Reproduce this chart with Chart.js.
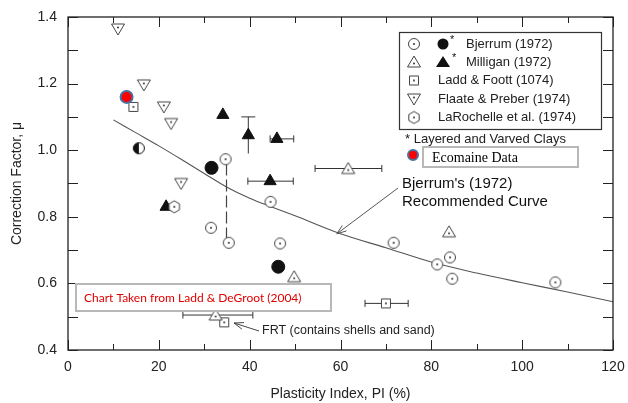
<!DOCTYPE html>
<html>
<head>
<meta charset="utf-8">
<script src="https://cdn.jsdelivr.net/npm/chart.js@4"></script>
<style>
  html, body { margin: 0; padding: 0; background: #fff; }
  #chart { display: block; }
</style>
</head>
<body>
<canvas id="chart" width="628" height="403"></canvas>
<script>
// ---- data (PI in %, mu) ----
const openCirclePI = [34.7, 35.4, 31.5, 46.7, 44.6, 71.7, 81.3, 84.1, 84.6, 107.3];
const openCircleMu = [0.973, 0.722, 0.767, 0.72, 0.845, 0.722, 0.657, 0.678, 0.614, 0.603];

const hexPI = [23.4];
const hexMu = [0.83];

const filledCirclePI = [31.6, 46.3];
const filledCircleMu = [0.947, 0.65];

const halfCirclePI = [15.6];
const halfCircleMu = [1.006];

const openTriPI = [61.7, 83.9, 49.8, 32.5];
const openTriMu = [0.945, 0.755, 0.62, 0.505];

const filledTriPI = [34.1, 39.7, 46.0, 44.5, 21.6];
const filledTriMu = [1.106, 1.045, 1.034, 0.907, 0.83];

const squarePI = [14.4, 70.0, 34.4];
const squareMu = [1.13, 0.54, 0.483];

const downTriPI = [11.0, 16.7, 21.1, 22.7, 24.9];
const downTriMu = [1.364, 1.196, 1.13, 1.08, 0.90];

const ecomainePI = [12.9];
const ecomaineMu = [1.16];

// Bjerrum (1972) recommended curve
const curvePI = [10, 15, 20, 25, 30, 35, 40, 45, 50, 60, 70, 80, 90, 100, 110, 120];
const curveMu = [1.091, 1.052, 1.013, 0.972, 0.93, 0.889, 0.856, 0.829, 0.803, 0.749, 0.707, 0.664, 0.631, 0.602, 0.574, 0.545];

// horizontal error bars
const xErrPI = [32.5, 70.0, 61.7, 46.0, 44.5];
const xErrMu = [0.505, 0.54, 0.945, 1.034, 0.907];
const xErrLo = [25.3, 65.4, 54.4, 44.5, 39.6];
const xErrHi = [40.7, 74.9, 69.1, 49.7, 49.6];

// vertical error bar
const yErrPI = [39.7];
const yErrLo = [0.99];
const yErrHi = [1.10];

// dashed link between two Bjerrum points
const linkPI = [34.9, 34.9];
const linkMu = [0.96, 0.722];

const yTicks = [0.4, 0.6, 0.8, 1.0, 1.2, 1.4];
const xTicks = [0, 20, 40, 60, 80, 100, 120];

const SANS = "'Liberation Sans', Arial, sans-serif";

function pts(xs, ys) {
  return xs.map((x, i) => ({ x: x, y: ys[i] }));
}

// small marker images
function marker(kind) {
  const c = document.createElement('canvas');
  c.width = 16; c.height = 16;
  const g = c.getContext('2d');
  g.translate(8, 8);
  g.lineWidth = 1;
  g.strokeStyle = '#444';
  g.fillStyle = '#fff';
  let dy = 0;
  g.beginPath();
  if (kind === 'circle') {
    g.arc(0, 0, 5.5, 0, Math.PI * 2);
  } else if (kind === 'hex') {
    for (let i = 0; i < 6; i++) {
      const a = Math.PI / 6 + i * Math.PI / 3;
      g.lineTo(6 * Math.cos(a), 6 * Math.sin(a));
    }
    g.closePath();
  } else if (kind === 'up') {
    g.moveTo(0, -6); g.lineTo(6.5, 5); g.lineTo(-6.5, 5); g.closePath();
    dy = 1.5;
  } else if (kind === 'down') {
    g.moveTo(0, 6); g.lineTo(6.5, -5); g.lineTo(-6.5, -5); g.closePath();
    dy = -1.5;
  } else if (kind === 'square') {
    g.rect(-4.5, -4.5, 9, 9);
  } else if (kind === 'half') {
    g.strokeStyle = '#111';
    g.arc(0, 0, 5.5, 0, Math.PI * 2);
    g.fill(); g.stroke();
    g.beginPath();
    g.fillStyle = '#111';
    g.arc(0, 0, 5.5, Math.PI / 2, Math.PI * 1.5);
    g.fill();
    return c;
  }
  g.fill();
  g.stroke();
  g.beginPath();
  g.fillStyle = '#333';
  g.arc(0, dy, 1, 0, Math.PI * 2);
  g.fill();
  return c;
}

const mCircle = marker('circle');
const mHex = marker('hex');
const mUp = marker('up');
const mDown = marker('down');
const mSquare = marker('square');
const mHalf = marker('half');

function arrow(ctx, x1, y1, x2, y2) {
  ctx.beginPath();
  ctx.moveTo(x1, y1);
  ctx.lineTo(x2, y2);
  ctx.stroke();
  const a = Math.atan2(y2 - y1, x2 - x1);
  ctx.beginPath();
  ctx.moveTo(x2 - 10 * Math.cos(a - 0.35), y2 - 10 * Math.sin(a - 0.35));
  ctx.lineTo(x2, y2);
  ctx.lineTo(x2 - 10 * Math.cos(a + 0.35), y2 - 10 * Math.sin(a + 0.35));
  ctx.stroke();
}

const errorBars = {
  id: 'errorBars',
  beforeDatasetsDraw(chart) {
    const { ctx, scales: { x, y } } = chart;
    ctx.save();
    ctx.strokeStyle = '#333';
    ctx.lineWidth = 1;
    xErrPI.forEach((_, i) => {
      const py = y.getPixelForValue(xErrMu[i]);
      const a = x.getPixelForValue(xErrLo[i]);
      const b = x.getPixelForValue(xErrHi[i]);
      ctx.beginPath();
      ctx.moveTo(a, py); ctx.lineTo(b, py);
      ctx.moveTo(a, py - 3.5); ctx.lineTo(a, py + 3.5);
      ctx.moveTo(b, py - 3.5); ctx.lineTo(b, py + 3.5);
      ctx.stroke();
    });
    yErrPI.forEach((v, i) => {
      const px = x.getPixelForValue(v);
      const a = y.getPixelForValue(yErrLo[i]);
      const b = y.getPixelForValue(yErrHi[i]);
      ctx.beginPath();
      ctx.moveTo(px, a); ctx.lineTo(px, b);
      ctx.moveTo(px - 7, b); ctx.lineTo(px + 7, b);
      ctx.stroke();
    });
    ctx.restore();
  }
};

const frame = {
  id: 'frame',
  afterDraw(chart) {
    const { ctx, chartArea: ca, scales: { x, y } } = chart;
    ctx.save();
    ctx.strokeStyle = '#222';
    ctx.lineWidth = 1.3;
    ctx.strokeRect(ca.left, ca.top, ca.right - ca.left, ca.bottom - ca.top);
    ctx.lineWidth = 1;
    ctx.beginPath();
    for (let v = 0; v <= 120; v += 10) {
      const px = Math.round(x.getPixelForValue(v)) + 0.5;
      const len = v % 20 === 0 ? 10 : 6;
      ctx.moveTo(px, ca.bottom); ctx.lineTo(px, ca.bottom - len);
      ctx.moveTo(px, ca.top); ctx.lineTo(px, ca.top + len);
    }
    for (let k = 4; k <= 14; k++) {
      const py = Math.round(y.getPixelForValue(k / 10)) + 0.5;
      const len = 10;
      ctx.moveTo(ca.left, py); ctx.lineTo(ca.left + len, py);
      ctx.moveTo(ca.right, py); ctx.lineTo(ca.right - len, py);
    }
    ctx.stroke();

    // legend box
    ctx.fillStyle = '#fff';
    ctx.fillRect(399.5, 32.5, 202, 97);
    ctx.strokeStyle = '#333';
    ctx.lineWidth = 1.2;
    ctx.strokeRect(399.5, 32.5, 202, 97);
    const rows = [44, 62, 80.5, 99, 117.5];
    ctx.drawImage(mCircle, 406, rows[0] - 8);
    ctx.drawImage(mUp, 406, rows[1] - 8);
    ctx.drawImage(mSquare, 406, rows[2] - 8);
    ctx.drawImage(mDown, 406, rows[3] - 8);
    ctx.drawImage(mHex, 406, rows[4] - 8);
    ctx.fillStyle = '#111';
    ctx.beginPath();
    ctx.arc(443, rows[0], 5.5, 0, Math.PI * 2);
    ctx.fill();
    ctx.beginPath();
    ctx.moveTo(443, rows[1] - 6); ctx.lineTo(450, rows[1] + 5); ctx.lineTo(436, rows[1] + 5);
    ctx.closePath();
    ctx.fill();
    ctx.font = '11px ' + SANS;
    ctx.textBaseline = 'middle';
    ctx.fillText('*', 450, rows[0] - 4);
    ctx.fillText('*', 452, rows[1] - 4);
    ctx.fillStyle = '#222';
    ctx.font = '13px ' + SANS;
    ctx.fillText('Bjerrum (1972)', 466, rows[0]);
    ctx.fillText('Milligan (1972)', 466, rows[1]);
    ctx.fillText('Ladd & Foott (1074)', 438, rows[2]);
    ctx.fillText('Flaate & Preber (1974)', 438, rows[3]);
    ctx.fillText('LaRochelle et al. (1974)', 438, rows[4]);
    ctx.fillText('* Layered and Varved Clays', 405, 139);

    // Ecomaine legend entry
    ctx.beginPath();
    ctx.arc(413, 155, 5, 0, Math.PI * 2);
    ctx.fillStyle = '#ff0000';
    ctx.fill();
    ctx.strokeStyle = '#4a6fa0';
    ctx.lineWidth = 2;
    ctx.stroke();
    ctx.strokeStyle = '#b8b8b8';
    ctx.lineWidth = 2;
    ctx.strokeRect(423, 147, 155, 20);
    ctx.fillStyle = '#000';
    ctx.font = '14px "Liberation Serif", "Times New Roman", serif';
    ctx.fillText('Ecomaine Data', 432, 158);

    // source note
    ctx.fillStyle = '#fff';
    ctx.fillRect(76, 284, 255, 27);
    ctx.strokeStyle = '#b8b8b8';
    ctx.strokeRect(76, 284, 255, 27);
    ctx.fillStyle = '#e00000';
    ctx.font = '12px Lato, ' + SANS;
    ctx.fillText('Chart Taken from Ladd & DeGroot (2004)', 84, 298);

    // curve annotation
    ctx.fillStyle = '#111';
    ctx.font = '15px ' + SANS;
    ctx.fillText("Bjerrum's (1972)", 402, 184);
    ctx.fillText('Recommended Curve', 402, 202);
    ctx.strokeStyle = '#555';
    ctx.lineWidth = 1;
    arrow(ctx, 398, 188, x.getPixelForValue(59.2), y.getPixelForValue(0.752) + 1);

    // FRT note
    ctx.font = '12.5px ' + SANS;
    ctx.fillStyle = '#222';
    ctx.fillText('FRT (contains shells and sand)', 262, 331);
    ctx.strokeStyle = '#444';
    arrow(ctx, 259, 331, 234, 323);
    ctx.restore();
  }
};

const ctx = document.getElementById('chart').getContext('2d');

const datasets = [
  {
    type: 'line', label: 'Recommended curve', data: pts(curvePI, curveMu),
    borderColor: '#555', borderWidth: 1.1, pointRadius: 0, fill: false,
    cubicInterpolationMode: 'monotone', order: 20
  },
  {
    type: 'line', label: 'link', data: pts(linkPI, linkMu),
    borderColor: '#444', borderWidth: 1.2, borderDash: [12, 4], pointRadius: 0, fill: false, order: 19
  },
  { label: 'Milligan layered', data: pts(filledTriPI, filledTriMu), pointStyle: 'triangle',
    pointRadius: 7, backgroundColor: '#111', borderColor: '#111', borderWidth: 1, order: 8 },
  { label: 'LaRochelle', data: pts(hexPI, hexMu), pointStyle: mHex, order: 5 },
  { label: 'Bjerrum', data: pts(openCirclePI, openCircleMu), pointStyle: mCircle, order: 5 },
  { label: 'Bjerrum layered', data: pts(filledCirclePI, filledCircleMu), pointStyle: 'circle',
    pointRadius: 6.5, backgroundColor: '#111', borderColor: '#111', order: 5 },
  { label: 'Bjerrum half', data: pts(halfCirclePI, halfCircleMu), pointStyle: mHalf, order: 5 },
  { label: 'Milligan', data: pts(openTriPI, openTriMu), pointStyle: mUp, order: 5 },
  { label: 'Ladd & Foott', data: pts(squarePI, squareMu), pointStyle: mSquare, order: 5 },
  { label: 'Flaate & Preber', data: pts(downTriPI, downTriMu), pointStyle: mDown, order: 5 },
  { label: 'Ecomaine Data', data: pts(ecomainePI, ecomaineMu), pointStyle: 'circle',
    pointRadius: 6, backgroundColor: '#ff0000', borderColor: '#4a6fa0', borderWidth: 2, order: 1 }
];

new Chart(ctx, {
  type: 'scatter',
  data: { datasets: datasets },
  options: {
    responsive: false,
    animation: false,
    layout: { padding: { left: 0, right: 15, top: 17, bottom: 0 } },
    plugins: { legend: { display: false }, tooltip: { enabled: false } },
    scales: {
      x: {
        type: 'linear', min: 0, max: 120,
        afterFit: (s) => { s.height = 53; },
        grid: { display: false }, border: { display: false },
        afterBuildTicks: (s) => { s.ticks = xTicks.map(v => ({ value: v })); },
        ticks: { autoSkip: false, maxRotation: 0, padding: 1, color: '#222',
                 font: { family: SANS, size: 14 } },
        title: { display: true, text: 'Plasticity Index, PI (%)', color: '#222',
                 font: { family: SANS, size: 14 }, padding: { top: 0, bottom: 0 } }
      },
      y: {
        min: 0.4, max: 1.4,
        afterFit: (s) => { s.width = 68; },
        grid: { display: false }, border: { display: false },
        afterBuildTicks: (s) => { s.ticks = yTicks.map(v => ({ value: v })); },
        ticks: { padding: 3, color: '#222', font: { family: SANS, size: 14 },
                 callback: (v) => Number(v).toFixed(1) },
        title: { display: true, text: 'Correction Factor, \u03bc', color: '#222',
                 font: { family: SANS, size: 14 }, padding: { top: 9, bottom: 0 } }
      }
    }
  },
  plugins: [errorBars, frame]
});
</script>
</body>
</html>
